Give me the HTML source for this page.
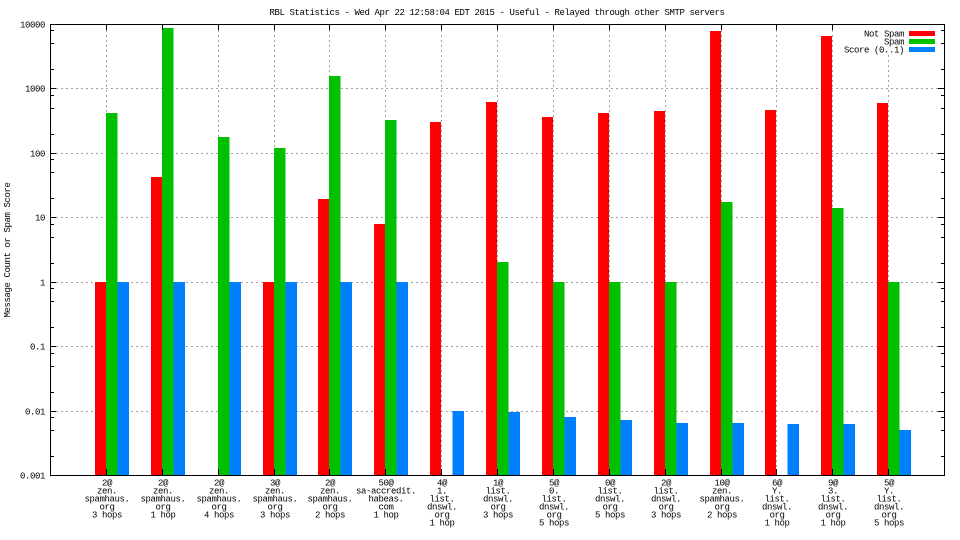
<!DOCTYPE html>
<html><head><meta charset="utf-8"><style>
html,body{margin:0;padding:0;background:#fff;}
svg{display:block;}
text{font-family:"Liberation Mono",monospace;font-size:9px;letter-spacing:-0.4px;fill:#000;}
</style></head><body>
<svg width="960" height="540" viewBox="0 0 960 540" xmlns="http://www.w3.org/2000/svg">
<rect x="0" y="0" width="960" height="540" fill="#fff"/>
<!-- grid -->
<g stroke="#a0a0a0" stroke-width="1" stroke-dasharray="2,3" fill="none" shape-rendering="crispEdges">
<path d="M51 88.5H944M51 153.5H944M51 217.5H944M51 282.5H944M51 346.5H944M51 411.5H944"/>
<path d="M106.5 25V475M162.5 25V475M218.5 25V475M274.5 25V475M329.5 25V475M385.5 25V475M441.5 25V475M497.5 25V475M553.5 25V475M609.5 25V475M665.5 25V475M721.5 25V475M776.5 25V475M832.5 25V475M888.5 25V475"/>
</g>
<!-- bars -->
<g shape-rendering="crispEdges">
<!-- red -->
<g fill="#ff0000">
<rect x="95" y="282" width="11" height="193"/>
<rect x="151" y="177" width="11" height="298"/>
<rect x="263" y="282" width="11" height="193"/>
<rect x="318" y="199" width="11" height="276"/>
<rect x="374" y="224" width="11" height="251"/>
<rect x="430" y="122" width="11" height="353"/>
<rect x="486" y="102" width="11" height="373"/>
<rect x="542" y="117" width="11" height="358"/>
<rect x="598" y="113" width="11" height="362"/>
<rect x="654" y="111" width="11" height="364"/>
<rect x="710" y="31" width="11" height="444"/>
<rect x="765" y="110" width="11" height="365"/>
<rect x="821" y="36" width="11" height="439"/>
<rect x="877" y="103" width="11" height="372"/>
</g>
<!-- green -->
<g fill="#00c000">
<rect x="106" y="113" width="11.5" height="362"/>
<rect x="162" y="28" width="11.5" height="447"/>
<rect x="218" y="137" width="11.5" height="338"/>
<rect x="274" y="148" width="11.5" height="327"/>
<rect x="329" y="76" width="11.5" height="399"/>
<rect x="385" y="120" width="11.5" height="355"/>
<rect x="497" y="262" width="11.5" height="213"/>
<rect x="553" y="282" width="11.5" height="193"/>
<rect x="609" y="282" width="11.5" height="193"/>
<rect x="665" y="282" width="11.5" height="193"/>
<rect x="721" y="202" width="11.5" height="273"/>
<rect x="832" y="208" width="11.5" height="267"/>
<rect x="888" y="282" width="11.5" height="193"/>
</g>
<!-- blue -->
<g fill="#0080ff">
<rect x="117.5" y="282" width="11.5" height="193"/>
<rect x="173.5" y="282" width="11.5" height="193"/>
<rect x="229.5" y="282" width="11.5" height="193"/>
<rect x="285.5" y="282" width="11.5" height="193"/>
<rect x="340.5" y="282" width="11.5" height="193"/>
<rect x="396.5" y="282" width="11.5" height="193"/>
<rect x="452.5" y="411" width="11.5" height="64"/>
<rect x="508.5" y="412" width="11.5" height="63"/>
<rect x="564.5" y="417" width="11.5" height="58"/>
<rect x="620.5" y="420" width="11.5" height="55"/>
<rect x="676.5" y="423" width="11.5" height="52"/>
<rect x="732.5" y="423" width="11.5" height="52"/>
<rect x="787.5" y="424" width="11.5" height="51"/>
<rect x="843.5" y="424" width="11.5" height="51"/>
<rect x="899.5" y="430" width="11.5" height="45"/>
</g>
</g>
<!-- axis ticks -->
<g stroke="#000" stroke-width="1" fill="none" shape-rendering="crispEdges">
<path d="M51 88.5H56M51 153.5H56M51 217.5H56M51 282.5H56M51 346.5H56M51 411.5H56"/>
<path d="M938 88.5H944M938 153.5H944M938 217.5H944M938 282.5H944M938 346.5H944M938 411.5H944"/>
<path d="M51 69.5H54M51 43.5H54M51 30.5H54M51 134.5H54M51 108.5H54M51 95.5H54M51 198.5H54M51 172.5H54M51 159.5H54M51 263.5H54M51 237.5H54M51 224.5H54M51 327.5H54M51 301.5H54M51 288.5H54M51 392.5H54M51 366.5H54M51 353.5H54M51 456.5H54M51 430.5H54M51 417.5H54"/>
<path d="M941 69.5H944M941 43.5H944M941 30.5H944M941 134.5H944M941 108.5H944M941 95.5H944M941 198.5H944M941 172.5H944M941 159.5H944M941 263.5H944M941 237.5H944M941 224.5H944M941 327.5H944M941 301.5H944M941 288.5H944M941 392.5H944M941 366.5H944M941 353.5H944M941 456.5H944M941 430.5H944M941 417.5H944"/>
<path d="M106.5 25V30M162.5 25V30M218.5 25V30M274.5 25V30M329.5 25V30M385.5 25V30M441.5 25V30M497.5 25V30M553.5 25V30M609.5 25V30M665.5 25V30M721.5 25V30M776.5 25V30M832.5 25V30"/>
<path d="M106.5 469V475M162.5 469V475M218.5 469V475M274.5 469V475M329.5 469V475M385.5 469V475M441.5 469V475M497.5 469V475M553.5 469V475M609.5 469V475M665.5 469V475M721.5 469V475M776.5 469V475M832.5 469V475M888.5 469V475"/>
</g>
<!-- legend -->
<rect x="840" y="25" width="98" height="27" fill="#fff"/>
<text x="904" y="36.5" text-anchor="end">Not Spam</text>
<text x="904" y="44.5" text-anchor="end">Spam</text>
<text x="904" y="52.5" text-anchor="end">Score (0..1)</text>
<rect x="909" y="31" width="26" height="5" fill="#ff0000"/>
<rect x="909" y="39" width="26" height="5" fill="#00c000"/>
<rect x="909" y="47" width="26" height="5" fill="#0080ff"/>
<!-- border -->
<rect x="50.5" y="24.5" width="894" height="451" fill="none" stroke="#000" stroke-width="1" shape-rendering="crispEdges"/>
<!-- title -->
<text x="497" y="15" text-anchor="middle">RBL Statistics - Wed Apr 22 12:58:04 EDT 2015 - Useful - Relayed through other SMTP servers</text>
<!-- y tick labels -->
<g text-anchor="end">
<text x="45" y="27.5">10000</text>
<text x="45" y="91.5">1000</text>
<text x="45" y="156.5">100</text>
<text x="45" y="220.5">10</text>
<text x="45" y="285.5">1</text>
<text x="45" y="349.5">0.1</text>
<text x="45" y="414.5">0.01</text>
<text x="45" y="478.5">0.001</text>
</g>
<!-- y label -->
<text transform="translate(10,250) rotate(-90)" text-anchor="middle">Message Count or Spam Score</text>
<!-- x labels -->
<g text-anchor="middle">
<text x="107" y="485.5">2@</text><text x="107" y="493.5">zen.</text><text x="107" y="501.5">spamhaus.</text><text x="107" y="509.5">org</text><text x="107" y="517.5">3 hops</text>
<text x="163" y="485.5">2@</text><text x="163" y="493.5">zen.</text><text x="163" y="501.5">spamhaus.</text><text x="163" y="509.5">org</text><text x="163" y="517.5">1 hop</text>
<text x="219" y="485.5">2@</text><text x="219" y="493.5">zen.</text><text x="219" y="501.5">spamhaus.</text><text x="219" y="509.5">org</text><text x="219" y="517.5">4 hops</text>
<text x="275" y="485.5">3@</text><text x="275" y="493.5">zen.</text><text x="275" y="501.5">spamhaus.</text><text x="275" y="509.5">org</text><text x="275" y="517.5">3 hops</text>
<text x="330" y="485.5">2@</text><text x="330" y="493.5">zen.</text><text x="330" y="501.5">spamhaus.</text><text x="330" y="509.5">org</text><text x="330" y="517.5">2 hops</text>
<text x="386" y="485.5">50@</text><text x="386" y="493.5">sa-accredit.</text><text x="386" y="501.5">habeas.</text><text x="386" y="509.5">com</text><text x="386" y="517.5">1 hop</text>
<text x="442" y="485.5">4@</text><text x="442" y="493.5">1.</text><text x="442" y="501.5">list.</text><text x="442" y="509.5">dnswl.</text><text x="442" y="517.5">org</text><text x="442" y="525.5">1 hop</text>
<text x="498" y="485.5">1@</text><text x="498" y="493.5">list.</text><text x="498" y="501.5">dnswl.</text><text x="498" y="509.5">org</text><text x="498" y="517.5">3 hops</text>
<text x="554" y="485.5">5@</text><text x="554" y="493.5">0.</text><text x="554" y="501.5">list.</text><text x="554" y="509.5">dnswl.</text><text x="554" y="517.5">org</text><text x="554" y="525.5">5 hops</text>
<text x="610" y="485.5">0@</text><text x="610" y="493.5">list.</text><text x="610" y="501.5">dnswl.</text><text x="610" y="509.5">org</text><text x="610" y="517.5">5 hops</text>
<text x="666" y="485.5">2@</text><text x="666" y="493.5">list.</text><text x="666" y="501.5">dnswl.</text><text x="666" y="509.5">org</text><text x="666" y="517.5">3 hops</text>
<text x="722" y="485.5">10@</text><text x="722" y="493.5">zen.</text><text x="722" y="501.5">spamhaus.</text><text x="722" y="509.5">org</text><text x="722" y="517.5">2 hops</text>
<text x="777" y="485.5">6@</text><text x="777" y="493.5">Y.</text><text x="777" y="501.5">list.</text><text x="777" y="509.5">dnswl.</text><text x="777" y="517.5">org</text><text x="777" y="525.5">1 hop</text>
<text x="833" y="485.5">9@</text><text x="833" y="493.5">3.</text><text x="833" y="501.5">list.</text><text x="833" y="509.5">dnswl.</text><text x="833" y="517.5">org</text><text x="833" y="525.5">1 hop</text>
<text x="889" y="485.5">5@</text><text x="889" y="493.5">Y.</text><text x="889" y="501.5">list.</text><text x="889" y="509.5">dnswl.</text><text x="889" y="517.5">org</text><text x="889" y="525.5">5 hops</text>
</g>
</svg>
</body></html>
